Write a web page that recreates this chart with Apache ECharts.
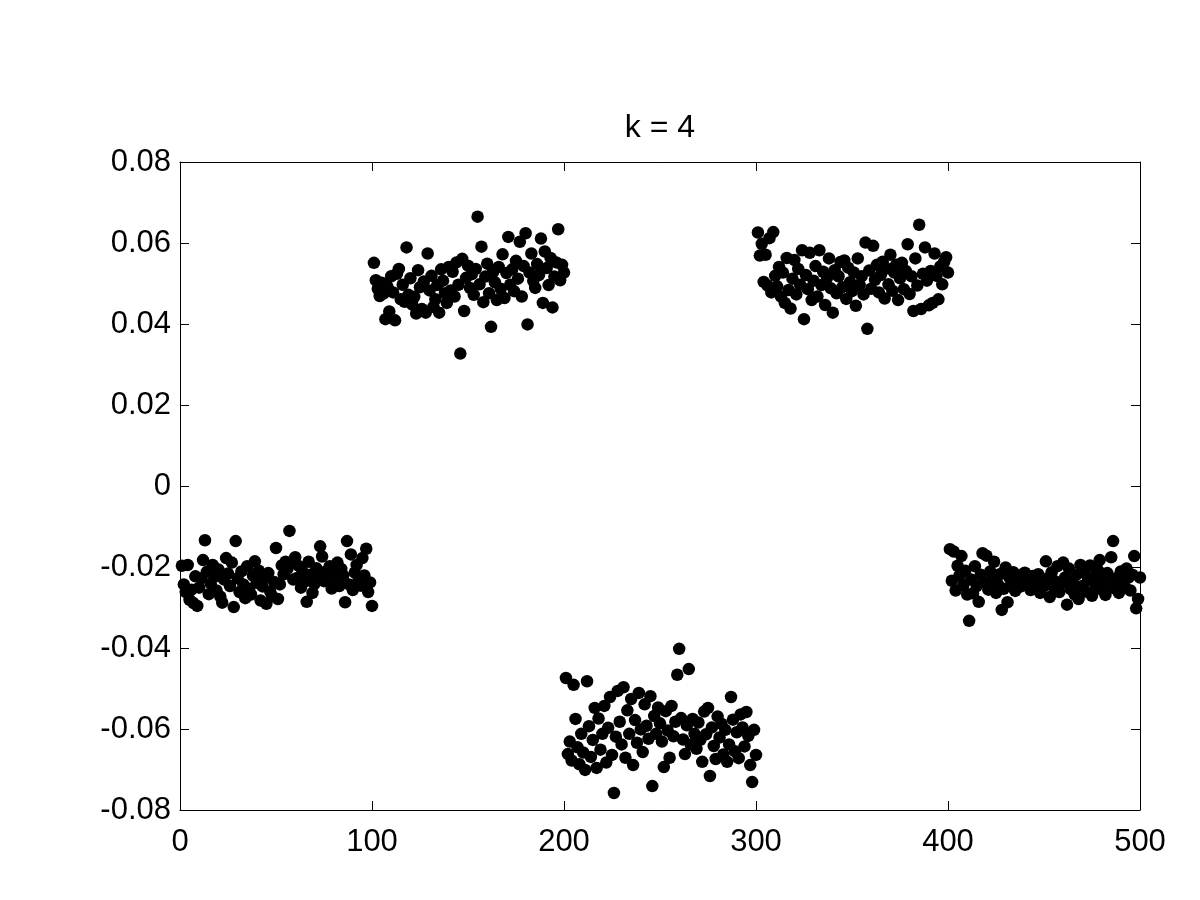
<!DOCTYPE html>
<html><head><meta charset="utf-8">
<script src="https://cdn.jsdelivr.net/npm/echarts@6/dist/echarts.min.js"></script>
<style>html,body{margin:0;padding:0;background:#fff}#c{width:1200px;height:900px}</style>
</head><body><div id="c"></div>
<script>
const titleText = 'k = 4';
const xTicks = [0, 100, 200, 300, 400, 500];
const yTicks = [-0.08, -0.06, -0.04, -0.02, 0, 0.02, 0.04, 0.06, 0.08];

const cluster1 = [
-0.0197,-0.0243,-0.0262,-0.0195,-0.0281,-0.0256,-0.0289,-0.0223,-0.0296,-0.0251,
-0.0228,-0.0183,-0.0134,-0.0212,-0.0267,-0.0241,-0.0195,-0.0224,-0.0258,-0.0206,
-0.0273,-0.0288,-0.0231,-0.0178,-0.0216,-0.0247,-0.0189,-0.0299,-0.0136,-0.0228,
-0.0262,-0.0211,-0.0243,-0.0277,-0.0198,-0.0254,-0.0268,-0.0221,-0.0186,-0.0239,
-0.0209,-0.0283,-0.0248,-0.0226,-0.0291,-0.0215,-0.0261,-0.0272,-0.0237,-0.0153,
-0.0279,-0.0243,-0.0196,-0.0218,-0.0187,-0.0204,-0.0111,-0.0189,-0.0231,-0.0176,
-0.0227,-0.0198,-0.0251,-0.0212,-0.0236,-0.0286,-0.0187,-0.0219,-0.0264,-0.0242,
-0.0203,-0.0228,-0.0149,-0.0174,-0.0235,-0.0211,-0.0224,-0.0198,-0.0253,-0.0216,
-0.0232,-0.0189,-0.0247,-0.0205,-0.0221,-0.0287,-0.0136,-0.0243,-0.0169,-0.0257,
-0.0214,-0.0195,-0.0233,-0.0246,-0.0178,-0.0221,-0.0155,-0.0262,-0.0238,-0.0296];
const cluster2 = [
0.0551,0.0508,0.0487,0.0469,0.0502,0.0475,0.0412,0.0493,0.0431,0.0518,
0.0478,0.0409,0.0524,0.0536,0.0461,0.0497,0.0455,0.0589,0.0472,0.0513,
0.0448,0.0467,0.0426,0.0533,0.0491,0.0437,0.0505,0.0428,0.0574,0.0483,
0.0519,0.0442,0.0461,0.0496,0.0428,0.0535,0.0507,0.0476,0.0452,0.0541,
0.0483,0.0529,0.0468,0.0552,0.0497,0.0327,0.0561,0.0432,0.0514,0.0544,
0.0489,0.0523,0.0472,0.0536,0.0665,0.0498,0.0591,0.0454,0.0517,0.0549,
0.0476,0.0393,0.0528,0.0503,0.0459,0.0541,0.0487,0.0572,0.0464,0.0526,
0.0615,0.0497,0.0535,0.0481,0.0556,0.0512,0.0603,0.0468,0.0543,0.0624,
0.0399,0.0527,0.0574,0.0506,0.0489,0.0548,0.0521,0.0611,0.0452,0.0579,
0.0538,0.0496,0.0563,0.0441,0.0517,0.0552,0.0634,0.0508,0.0546,0.0527];
const cluster3 = [
-0.0474,-0.0662,-0.0631,-0.0678,-0.0491,-0.0575,-0.0645,-0.0687,-0.0612,-0.0658,
-0.0701,-0.0482,-0.0593,-0.0669,-0.0627,-0.0548,-0.0696,-0.0574,-0.0651,-0.0612,
-0.0543,-0.0683,-0.0597,-0.0521,-0.0664,-0.0758,-0.0619,-0.0506,-0.0582,-0.0638,
-0.0497,-0.0671,-0.0554,-0.0612,-0.0526,-0.0689,-0.0578,-0.0634,-0.0511,-0.0601,
-0.0657,-0.0539,-0.0592,-0.0624,-0.0519,-0.0741,-0.0568,-0.0612,-0.0547,-0.0586,
-0.0631,-0.0694,-0.0556,-0.0604,-0.0671,-0.0543,-0.0618,-0.0582,-0.0466,-0.0402,
-0.0573,-0.0626,-0.0662,-0.0591,-0.0452,-0.0638,-0.0575,-0.0612,-0.0649,-0.0584,
-0.0627,-0.0681,-0.0557,-0.0613,-0.0548,-0.0716,-0.0596,-0.0642,-0.0674,-0.0569,
-0.0621,-0.0587,-0.0663,-0.0602,-0.0681,-0.0638,-0.0521,-0.0577,-0.0655,-0.0608,
-0.0672,-0.0564,-0.0596,-0.0643,-0.0558,-0.0617,-0.0689,-0.0731,-0.0602,-0.0664];
const cluster4 = [
0.0626,0.0569,0.0598,0.0504,0.0571,0.0495,0.0612,0.0478,0.0627,0.0519,
0.0493,0.0541,0.0468,0.0527,0.0452,0.0563,0.0484,0.0438,0.0512,0.0558,
0.0473,0.0536,0.0497,0.0582,0.0412,0.0521,0.0486,0.0576,0.0459,0.0507,
0.0543,0.0468,0.0582,0.0496,0.0529,0.0447,0.0514,0.0562,0.0488,0.0428,
0.0533,0.0476,0.0518,0.0553,0.0491,0.0557,0.0462,0.0539,0.0503,0.0481,
0.0527,0.0445,0.0562,0.0496,0.0518,0.0473,0.0601,0.0388,0.0532,0.0487,
0.0593,0.0509,0.0546,0.0478,0.0521,0.0554,0.0463,0.0537,0.0498,0.0571,
0.0482,0.0527,0.0546,0.0459,0.0513,0.0551,0.0486,0.0531,0.0597,0.0474,
0.0518,0.0432,0.0562,0.0495,0.0645,0.0437,0.0524,0.0589,0.0507,0.0446,
0.0531,0.0452,0.0574,0.0519,0.0461,0.0542,0.0498,0.0553,0.0565,0.0527];
const cluster5 = [
-0.0156,-0.0234,-0.0162,-0.0258,-0.0197,-0.0221,-0.0173,-0.0245,-0.0209,-0.0268,
-0.0333,-0.0231,-0.0265,-0.0198,-0.0247,-0.0286,-0.0219,-0.0166,-0.0238,-0.0172,
-0.0256,-0.0211,-0.0229,-0.0187,-0.0264,-0.0243,-0.0218,-0.0306,-0.0254,-0.0201,
-0.0287,-0.0226,-0.0241,-0.0213,-0.0259,-0.0232,-0.0221,-0.0248,-0.0236,-0.0214,
-0.0245,-0.0229,-0.0257,-0.0222,-0.0239,-0.0251,-0.0218,-0.0264,-0.0233,-0.0247,
-0.0186,-0.0228,-0.0274,-0.0213,-0.0249,-0.0236,-0.0198,-0.0262,-0.0241,-0.0189,
-0.0226,-0.0293,-0.0204,-0.0255,-0.0238,-0.0268,-0.0219,-0.0279,-0.0195,-0.0247,
-0.0213,-0.0261,-0.0232,-0.0196,-0.0271,-0.0224,-0.0248,-0.0207,-0.0183,-0.0256,
-0.0231,-0.0269,-0.0215,-0.0242,-0.0176,-0.0136,-0.0253,-0.0227,-0.0264,-0.0211,
-0.0238,-0.0249,-0.0204,-0.0226,-0.0258,-0.0219,-0.0173,-0.0302,-0.0279,-0.0226];

const values = [].concat(cluster1, cluster2, cluster3, cluster4, cluster5);
const points = values.map((v, i) => [i + 1, v]);

const FONT = 'Liberation Sans';
const chart = echarts.init(document.getElementById('c'), null, {renderer: 'canvas'});
const axisCommon = {
  min: 0, max: 500, interval: 100,
  axisLine: {show: true, onZero: false, lineStyle: {color: '#000', width: 1}},
  axisTick: {show: true, inside: true, length: 9, lineStyle: {color: '#000'}},
  splitLine: {show: false}
};
const yCommon = {
  min: -0.08, max: 0.08, interval: 0.02,
  axisLine: {show: true, onZero: false, lineStyle: {color: '#000', width: 1}},
  axisTick: {show: true, inside: true, length: 9, lineStyle: {color: '#000'}},
  splitLine: {show: false}
};
chart.setOption({
  animation: false,
  backgroundColor: '#fff',
  title: {
    text: titleText, left: 655, top: 107, textAlign: 'center',
    textStyle: {fontFamily: FONT, fontSize: 32, fontWeight: 'normal', color: '#000'}
  },
  grid: {left: 180, right: 60, top: 162, bottom: 90, show: false},
  xAxis: [
    Object.assign({type: 'value', position: 'bottom',
      axisLabel: {show: true, margin: 17, fontFamily: FONT, fontSize: 31, color: '#000',
        formatter: v => xTicks.includes(v) ? String(v) : ''}}, axisCommon),
    Object.assign({type: 'value', position: 'top', axisLabel: {show: false}}, axisCommon)
  ],
  yAxis: [
    Object.assign({type: 'value', position: 'left',
      axisLabel: {show: true, margin: 9, fontFamily: FONT, fontSize: 31, color: '#000',
        formatter: v => { const t = yTicks.find(k => Math.abs(k - v) < 1e-9); return t === undefined ? '' : (t === 0 ? '0' : t.toFixed(2)); }}}, yCommon),
    Object.assign({type: 'value', position: 'right', axisLabel: {show: false}}, yCommon)
  ],
  series: [{
    type: 'scatter', xAxisIndex: 0, yAxisIndex: 0,
    data: points, symbol: 'circle', symbolSize: 12.5,
    itemStyle: {color: '#000', opacity: 1}
  }]
});
</script></body></html>
